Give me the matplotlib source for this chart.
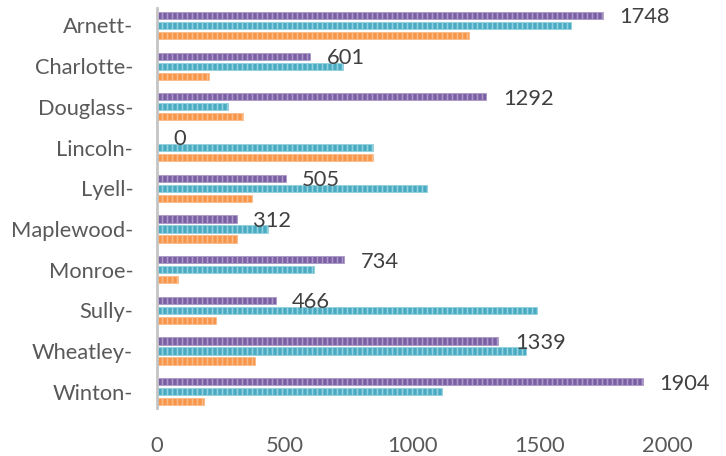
import matplotlib
matplotlib.use("Agg")
import matplotlib.pyplot as plt
import numpy as np

categories = ["Arnett", "Charlotte", "Douglass", "Lincoln", "Lyell",
              "Maplewood", "Monroe", "Sully", "Wheatley", "Winton"]
series_purple = [1748, 601, 1292, 0, 505, 312, 734, 466, 1339, 1904]
series_teal = [1622, 731, 280, 846, 1057, 434, 616, 1490, 1447, 1116]
series_orange = [1225, 205, 338, 848, 371, 312, 83, 233, 384, 184]
x_ticks = [0, 500, 1000, 1500, 2000]

DPI = 90
plt.rcParams['font.family'] = ['Lato', 'DejaVu Sans']
plt.rcParams['hatch.linewidth'] = 1.3

fig = plt.figure(figsize=(726 / DPI, 456 / DPI), dpi=DPI)
ax = fig.add_axes([157 / 726, 48 / 456, (718 - 157) / 726, 400 / 456])

y = np.arange(len(categories))
pitch = 0.246
h = 0.175
styles = [
    (series_purple, -pitch, "#7a5fa3", "#ab98c8"),
    (series_teal, 0.0, "#4aaac1", "#92d2de"),
    (series_orange, pitch, "#f7964a", "#fabb88"),
]
for vals, off, fc, hc in styles:
    ax.barh(y + off, vals, height=h, color=fc, edgecolor=hc, linewidth=0.6,
            hatch="|||")

for i, v in enumerate(series_purple):
    ax.annotate(str(v), xy=(v, y[i] - pitch), xytext=(13, -1.5),
                textcoords="offset points", ha="left", va="center",
                fontsize=17.5, color="#404040")

ax.set_xlim(0, 2200)
ax.set_ylim(9.4, -0.43)
ax.set_yticks(y)
ax.set_yticklabels([c + "-" for c in categories])
ax.set_xticks(x_ticks)
ax.set_xticklabels([str(t) for t in x_ticks])
ax.tick_params(axis="y", length=0, pad=19, labelsize=17.5, labelcolor="#595959")
ax.tick_params(axis="x", length=0, pad=22.5, labelsize=17.5, labelcolor="#595959")

for s in ["top", "right", "bottom"]:
    ax.spines[s].set_visible(False)
ax.spines["left"].set_color("#c4c4c4")
ax.spines["left"].set_linewidth(2.2)

fig.savefig("out.png", dpi=DPI)
